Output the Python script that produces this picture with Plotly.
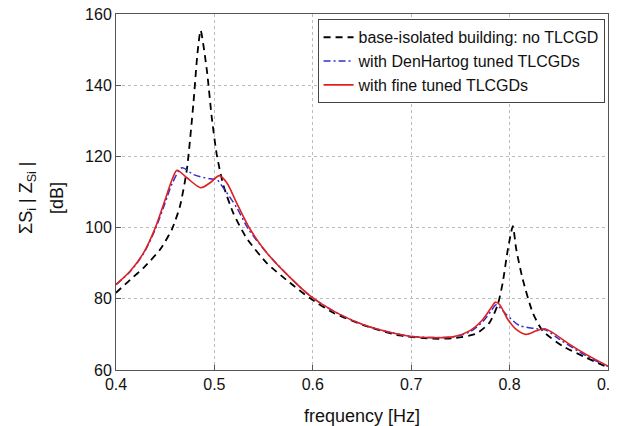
import plotly.graph_objects as go

# base-isolated building, no TLCGD
f_base = [0.400, 0.4145, 0.428, 0.445, 0.4568, 0.465, 0.472, 0.4787, 0.4828, 0.486,
          0.4923, 0.4973, 0.5024, 0.509, 0.5193, 0.5328, 0.553, 0.5768, 0.597,
          0.6207, 0.6546, 0.6883, 0.722, 0.7424, 0.766, 0.7796, 0.788, 0.793, 0.798,
          0.8033, 0.8067, 0.8134, 0.8235, 0.8336, 0.854, 0.8777, 0.90]
v_base = [81.7, 85.4, 88.7, 93.9, 99.5, 106.0, 116.3, 135.0, 149.0, 155.4,
          144.3, 131.0, 120.5, 112.0, 104.0, 97.0, 90.1, 84.5, 80.2,
          76.1, 72.3, 69.7, 68.8, 68.9, 70.2, 73.3, 78.4, 84.5, 93.5,
          100.4, 94.0, 85.4, 76.1, 71.0, 66.7, 63.5, 60.7]

# with DenHartog tuned TLCGDs
f_dh = [0.400, 0.4145, 0.428, 0.44, 0.45, 0.457, 0.467, 0.4787, 0.4956, 0.5024,
        0.509, 0.5227, 0.5345, 0.553, 0.5768, 0.597, 0.6207, 0.6546, 0.6985, 0.7424,
        0.7593, 0.7728, 0.7813, 0.7864, 0.7966, 0.81, 0.827, 0.837, 0.8508, 0.8777, 0.90]
v_dh = [84.0, 87.7, 92.7, 99.6, 107.0, 112.3, 116.8, 114.9, 113.7, 113.5,
        111.2, 105.6, 99.6, 93.0, 86.0, 80.9, 76.6, 72.4, 69.5, 69.3,
        70.7, 73.6, 76.6, 78.3, 75.6, 72.5, 71.6, 71.2, 68.6, 64.0, 61.0]

# with fine tuned TLCGDs
f_ft = [0.400, 0.4145, 0.428, 0.44, 0.45, 0.457, 0.462, 0.472, 0.4862, 0.4956,
        0.5051, 0.5126, 0.5227, 0.5362, 0.553, 0.5768, 0.597, 0.6207, 0.6546, 0.6985,
        0.7424, 0.7593, 0.7728, 0.7813, 0.7855, 0.7898, 0.7982, 0.8067, 0.8168, 0.827,
        0.8354, 0.8438, 0.861, 0.8777, 0.90]
v_ft = [84.0, 87.8, 92.9, 100.0, 107.9, 113.5, 116.1, 114.0, 111.2, 112.6,
        114.6, 112.6, 106.9, 99.6, 93.0, 86.0, 80.9, 76.6, 72.4, 69.5,
        69.3, 71.0, 74.2, 77.5, 79.0, 78.4, 74.2, 71.4, 70.0, 71.0,
        71.6, 70.5, 67.2, 64.4, 61.1]

x_ticks = [0.4, 0.5, 0.6, 0.7, 0.8, 0.9]
y_ticks = [60, 80, 100, 120, 140, 160]

fig = go.Figure()
fig.add_trace(go.Scatter(x=f_base, y=v_base, mode="lines",
                         name="base-isolated building: no TLCGD",
                         line=dict(color="black", width=1.8, dash="7px,5px", shape="spline", smoothing=0.6)))
fig.add_trace(go.Scatter(x=f_dh, y=v_dh, mode="lines",
                         name="with DenHartog tuned TLCGDs",
                         line=dict(color="#3030d0", width=1.5, dash="7px,3px,2px,3px", shape="spline", smoothing=0.8)))
fig.add_trace(go.Scatter(x=f_ft, y=v_ft, mode="lines",
                         name="with fine tuned TLCGDs",
                         line=dict(color="#e02020", width=1.6, shape="spline", smoothing=0.8)))

axis_common = dict(showline=True, linecolor="#555", linewidth=1, mirror=True,
                   ticks="inside", ticklen=5, tickcolor="#555",
                   showgrid=True, gridcolor="#bbbbbb", griddash="dot", gridwidth=1,
                   zeroline=False, automargin=False, ticklabeloverflow="allow",
                   tickfont=dict(size=16, color="#111"))

fig.update_layout(
    width=609, height=418,
    margin=dict(l=108, r=9, t=6, b=56),
    paper_bgcolor="white", plot_bgcolor="white",
    font=dict(family="Liberation Sans, Arial, sans-serif", color="#111"),
    xaxis=dict(range=[0.4, 0.9], tickvals=x_ticks, ticktext=[str(t) for t in x_ticks],
               title=dict(text="frequency [Hz]", font=dict(size=18), standoff=19), **axis_common),
    yaxis=dict(range=[60, 160], tickvals=y_ticks, ticktext=[str(t) for t in y_ticks],
               **axis_common),
    legend=dict(x=0.993, y=0.985, xanchor="right", yanchor="top",
                bgcolor="white", bordercolor="#444", borderwidth=1,
                font=dict(size=16, color="#111"), tracegroupgap=0, itemwidth=30),
    showlegend=True,
    annotations=[
        dict(text="ΣS<sub>i</sub> | Z<sub>Si</sub> |", xref="paper", yref="paper", x=0, y=0.5,
             xanchor="center", yanchor="middle", textangle=-90, showarrow=False,
             xshift=-89, yshift=-6, font=dict(size=18, color="#111")),
        dict(text="[dB]", xref="paper", yref="paper", x=0, y=0.5,
             xanchor="center", yanchor="middle", textangle=-90, showarrow=False,
             xshift=-59, yshift=-6, font=dict(size=18, color="#111")),
    ],
)

fig.write_html("out.html")
